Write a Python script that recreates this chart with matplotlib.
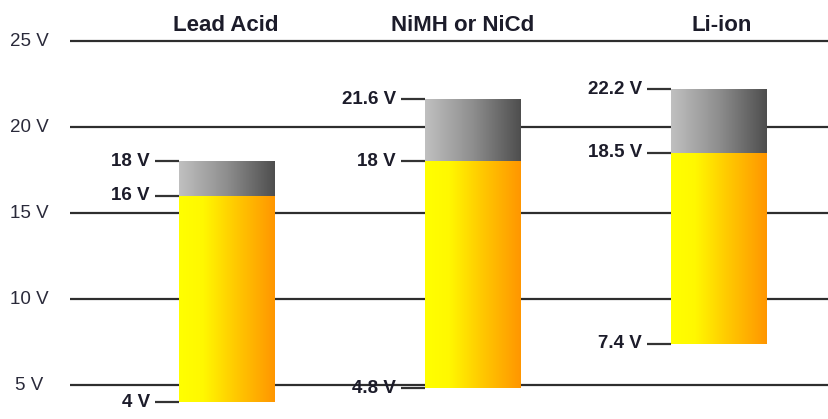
import numpy as np
import matplotlib
matplotlib.use("Agg")
import matplotlib.pyplot as plt
from matplotlib.colors import LinearSegmentedColormap

# Battery chemistries and their voltage ranges
chemistries = ["Lead Acid", "NiMH or NiCd", "Li-ion"]
v_low = [4.0, 4.8, 7.4]        # bottom of the yellow working range
v_nominal = [16.0, 18.0, 18.5]  # top of the yellow range
v_high = [18.0, 21.6, 22.2]     # top of the grey range
low_labels = ["4 V", "4.8 V", "7.4 V"]
nominal_labels = ["16 V", "18 V", "18.5 V"]
high_labels = ["18 V", "21.6 V", "22.2 V"]
grid_values = [5, 10, 15, 20, 25]
grid_labels = ["5 V", "10 V", "15 V", "20 V", "25 V"]

plt.rcParams["font.family"] = ["Liberation Sans", "DejaVu Sans"]

W, H = 829, 419
fig = plt.figure(figsize=(W / 100, H / 100), dpi=100)
ax = fig.add_axes([0, 0, 1, 1])
ax.set_axis_off()

# layout in pixels: bar centers 246 px apart, 17.2 px per volt, 0 V at 471 px
px_per_x = 246.0
px_per_v = 17.2
zero_px = 471.0
x0_px = 227.0
xmin = -x0_px / px_per_x
xmax = (W - x0_px) / px_per_x
ytop = zero_px / px_per_v
ybot = ytop - H / px_per_v
ax.set_xlim(xmin, xmax)
ax.set_ylim(ybot, ytop)


def px_x(p):
    return (p - x0_px) / px_per_x


def px_y(p):
    return (zero_px - p) / px_per_v


bar_w = 96 / px_per_x
tick_len = 24 / px_per_x
gap = 5 / px_per_x

# horizontal reference lines and their labels
ax.hlines(grid_values, px_x(70), xmax, colors="#2e2e2e", linewidth=1.6, zorder=1)
for v, t in zip(grid_values, grid_labels):
    ax.text(px_x(29), v, t, ha="center", va="center", fontsize=13.5,
            color="#2a2a3a", zorder=3)

yellow = LinearSegmentedColormap.from_list(
    "yel", [(0.0, "#FFFF00"), (0.25, "#FFF800"), (0.6, "#FFC800"), (1.0, "#FF9600")])
grey = LinearSegmentedColormap.from_list(
    "gry", [(0.0, "#C0C0C0"), (0.5, "#8E8E8E"), (1.0, "#4E4E4E")])
grad = np.linspace(0, 1, 256).reshape(1, -1)

title_shift_px = [-1, -10, 3]

for i, name in enumerate(chemistries):
    left = i - bar_w / 2
    right = i + bar_w / 2
    ax.imshow(grad, cmap=yellow, aspect="auto", interpolation="bicubic",
              extent=(left, right, v_low[i], v_nominal[i]), zorder=2)
    ax.imshow(grad, cmap=grey, aspect="auto", interpolation="bicubic",
              extent=(left, right, v_nominal[i], v_high[i]), zorder=2)

    for v, t in ((v_low[i], low_labels[i]), (v_nominal[i], nominal_labels[i]),
                 (v_high[i], high_labels[i])):
        ax.hlines(v, left - tick_len, left, colors="#333333", linewidth=1.6, zorder=3)
        ax.text(left - tick_len - gap, v, t, ha="right", va="center",
                fontsize=13.5, fontweight="bold", color="#1c1c2a", zorder=3)

    ax.text(i + title_shift_px[i] / px_per_x, px_y(25.5), name, ha="center",
            va="center", fontsize=16, fontweight="bold", color="#1c1c2a", zorder=3)

fig.savefig("out.png", dpi=100)
